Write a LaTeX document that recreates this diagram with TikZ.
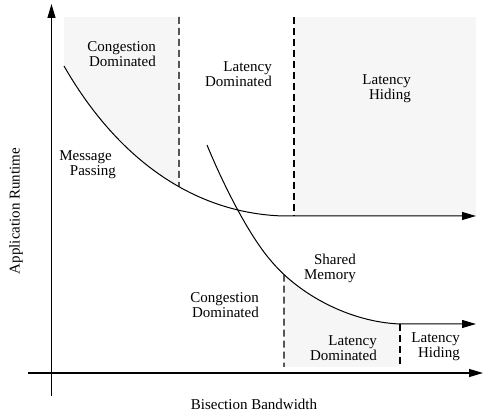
\documentclass[tikz,border=0pt]{standalone}
\usepackage{fontspec}
\setmainfont{Liberation Serif}
\usetikzlibrary{arrows.meta,intersections}
\begin{document}
\begin{tikzpicture}[x=1pt,y=-1pt,
  axis/.style={line width=1.1pt,-{Triangle[length=14pt,width=8pt]}},
  curve/.style={line width=1pt},
  curvearrow/.style={curve,-{Triangle[length=14pt,width=8pt]}},
  dashline/.style={line width=1.2pt,dash pattern=on 7pt off 4pt},
  shade/.style={fill={rgb,255:red,246;green,246;blue,246}},
  lbl/.style={align=right,anchor=east,inner sep=0pt,
    font=\fontsize{15}{15}\selectfont},
  axislbl/.style={inner sep=0pt,font=\fontsize{15}{15}\selectfont}]
\useasboundingbox (0,0) rectangle (483,414);

% shaded regions
\begin{scope}
  \clip (64,17) rectangle (179,400);
  \fill[shade] (64,17) -- (64,66) .. controls (115,155) and (190,213) .. (283,216)
    -- (283,17) -- cycle;
\end{scope}
\fill[shade] (294,17) rectangle (476,216);
\begin{scope}
  \clip (284,200) rectangle (400,367);
  \fill[shade] (272,262) .. controls (300,295) and (350,322) .. (400,324)
    -- (400,367) -- (272,367) -- cycle;
\end{scope}

% axes
\coordinate (xs) at (28,373);
\coordinate (xe) at (483,373);
\coordinate (ys) at (51.5,396);
\coordinate (ye) at (51.5,4);
\draw[axis] (xs) -- (xe);
\draw[axis] (ys) -- (ye);

% curves
\coordinate (mp0) at (64,66);
\coordinate (mp1) at (283,216);
\coordinate (mpE) at (476,216);
\draw[curvearrow,name path=mpc] (mp0) .. controls (115,155) and (190,213) .. (mp1) -- (mpE);

\coordinate (sm0) at (207,145);
\coordinate (sm1) at (272,262);
\coordinate (sm2) at (400,324);
\coordinate (smE) at (476,324);
\draw[curvearrow,name path=smc] (sm0) .. controls (223,184) and (249,236) .. (sm1)
  .. controls (300,295) and (350,322) .. (sm2) -- (smE);

% dashed region borders
\path[name path=v1] (179,0) -- (179,400);
\path[name intersections={of=mpc and v1,by=d1}];
\coordinate (d1t) at (179,17);
\draw[dashline] (d1t) -- (d1);

\coordinate (d2t) at (294,17);
\coordinate (d2b) at (294,216);
\draw[dashline] (d2t) -- (d2b);

\path[name path=v3] (284,200) -- (284,400);
\path[name intersections={of=smc and v3,by=d3}];
\coordinate (d3b) at (284,367);
\draw[dashline] (d3) -- (d3b);

\coordinate (d4t) at (400,324);
\coordinate (d4b) at (400,367);
\draw[dashline] (d4t) -- (d4b);

% labels
\node[lbl] (cd1) at (156,54) {Congestion\\Dominated};
\node[lbl] (ld1) at (272,74.5) {Latency\\Dominated};
\node[lbl] (lh1) at (411,88.5) {Latency\\Hiding};
\node[lbl] (mp) at (116,164.5) {Message\hspace*{4pt}\\Passing};
\node[lbl] (sm) at (356,268) {Shared\\Memory};
\node[lbl] (cd2) at (259,305) {Congestion\\Dominated};
\node[lbl] (ld2) at (377,348) {Latency\\Dominated};
\node[lbl] (lh2) at (460,347) {Latency\\Hiding};
\node[axislbl] (xl) at (254,404) {Bisection Bandwidth};
\node[axislbl,rotate=90] (yl) at (16,211) {Application Runtime};
\end{tikzpicture}
\end{document}
